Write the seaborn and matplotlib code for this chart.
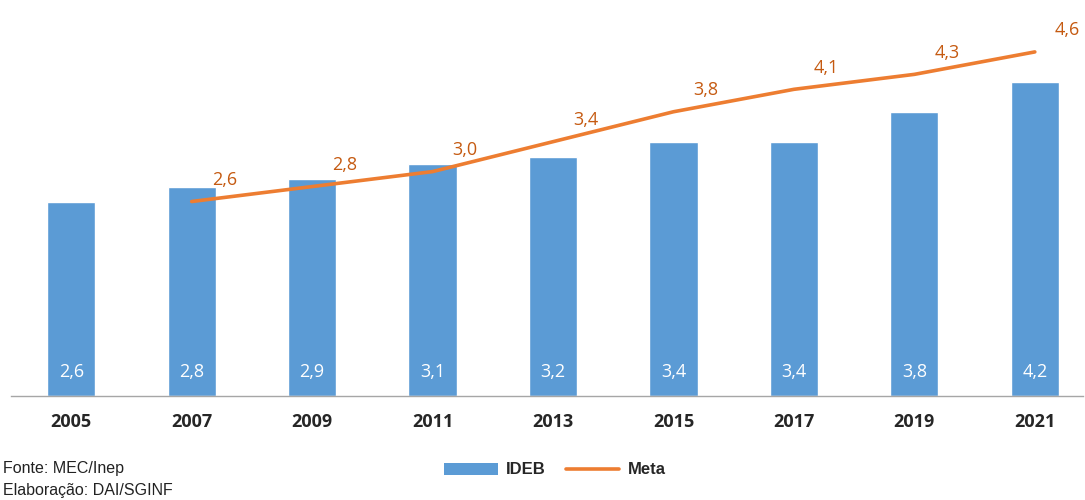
import numpy as np
import pandas as pd
import matplotlib
matplotlib.use("Agg")
import matplotlib.pyplot as plt
import seaborn as sns
from matplotlib.lines import Line2D
from matplotlib.patches import Patch

# Data
anos = ["2005", "2007", "2009", "2011", "2013", "2015", "2017", "2019", "2021"]
ideb = [2.6, 2.8, 2.9, 3.1, 3.2, 3.4, 3.4, 3.8, 4.2]
meta_anos = ["2007", "2009", "2011", "2013", "2015", "2017", "2019", "2021"]
meta = [2.6, 2.8, 3.0, 3.4, 3.8, 4.1, 4.3, 4.6]

cor_barra = "#5B9BD5"
cor_linha = "#ED7D31"
cor_rotulo = "#C55A11"


def fmt(v):
    return f"{v:.1f}".replace(".", ",")


sns.set_theme(style="white")
plt.rcParams["font.family"] = ["Open Sans", "DejaVu Sans"]

df = pd.DataFrame({"ano": anos, "ideb": ideb})
df_meta = pd.DataFrame({"pos": [anos.index(a) for a in meta_anos], "meta": meta})

fig = plt.figure(figsize=(10.85, 5), dpi=100)
ax = fig.add_axes([11 / 1085, 104 / 500, 1072 / 1085, 374 / 500])

sns.barplot(data=df, x="ano", y="ideb", color=cor_barra, saturation=1,
            width=0.4, ax=ax, zorder=2)
sns.lineplot(data=df_meta, x="pos", y="meta", color=cor_linha, linewidth=2.6,
             ax=ax, zorder=3)

# rótulos das barras (brancos, na base)
for i, v in enumerate(ideb):
    ax.text(i, 0.32, fmt(v), ha="center", va="center", color="white",
            fontsize=13)

# rótulos da meta
for p, v in zip(df_meta["pos"], meta):
    ax.text(p + 0.27, v + 0.29, fmt(v), ha="center", va="center",
            color=cor_rotulo, fontsize=13)

ax.set_xlim(-0.5, 8.4)
ax.set_ylim(0, 5)
ax.set_xlabel("")
ax.set_ylabel("")
ax.set_yticks([])
ax.tick_params(axis="x", length=0, pad=12)
for lbl in ax.get_xticklabels():
    lbl.set_fontweight("bold")
    lbl.set_fontsize(13)
for s in ["top", "right", "left"]:
    ax.spines[s].set_visible(False)
ax.spines["bottom"].set_color("#A6A6A6")
ax.spines["bottom"].set_linewidth(1)

handles = [Patch(facecolor=cor_barra, edgecolor="none"),
           Line2D([0], [0], color=cor_linha, linewidth=2.6)]
fig.legend(handles, ["IDEB", "Meta"], loc="center", bbox_to_anchor=(555 / 1085, 1 - 470 / 500),
           ncol=2, frameon=False, handlelength=3.2, handleheight=0.7,
           columnspacing=1.2, handletextpad=0.5,
           prop={"family": "Liberation Sans", "weight": "bold", "size": 12})

fig.text(3 / 1085, 1 - 468 / 500, "Fonte: MEC/Inep", family="Liberation Sans",
         fontsize=11.5, va="center", color="#222222")
fig.text(3 / 1085, 1 - 490 / 500, "Elaboração: DAI/SGINF", family="Liberation Sans",
         fontsize=11.5, va="center", color="#222222")

fig.savefig("out.png", dpi=100)
